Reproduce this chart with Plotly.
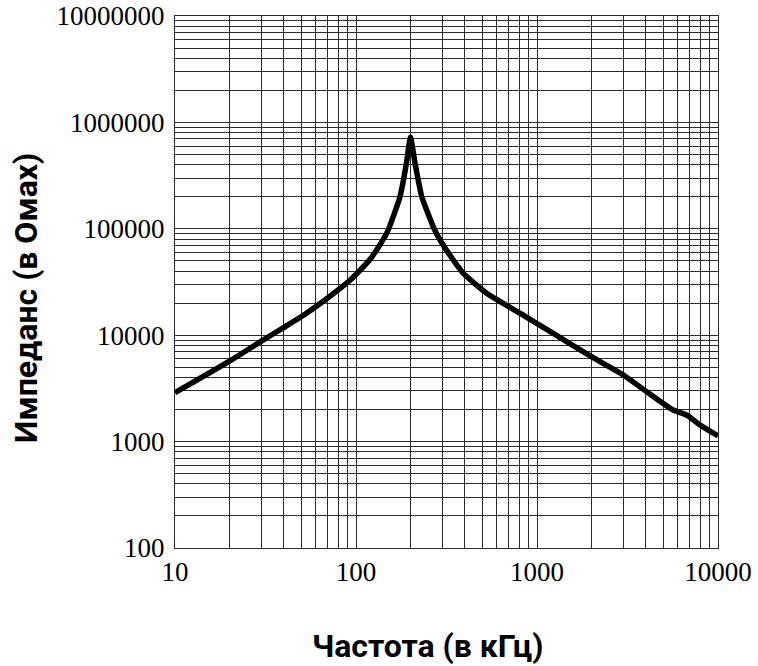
import plotly.graph_objects as go

# Data
freq_khz = [10, 20, 30, 40.5, 51, 70, 93, 120, 148, 175, 190, 200, 212, 231, 267, 291,
            330, 392, 527, 805, 1230, 2000, 3000, 4040, 5660, 6710, 7960, 10000]
impedance_ohm = [2880, 5700, 8800, 12000, 15300, 22500, 33000, 52000, 91000, 200000, 413000,
                 724000, 413000, 200000, 105000, 78500, 56500, 38200, 24800, 16100, 10400,
                 6280, 4230, 2940, 1980, 1780, 1430, 1130]

x_ticks = [10, 100, 1000, 10000]
x_tick_labels = ["10", "100", "1000", "10000"]
y_ticks = [100, 1000, 10000, 100000, 1000000, 10000000]
y_tick_labels = ["100", "1000", "10000", "100000", "1000000", "10000000"]

x_title = "Частота (в кГц)"
y_title = "Импеданс (в Омах)"

grid_color = "#2a2a2a"
tick_font = dict(family="Liberation Serif, Times New Roman, serif", size=27, color="black")
title_font = dict(family="Roboto, Arial, sans-serif", size=32, color="black")

W, H = 758, 666
PL, PR, PT, PB = 175, 718, 16, 548  # plot area in window pixels

fig = go.Figure()
fig.add_trace(go.Scatter(
    x=freq_khz, y=impedance_ohm, mode="lines",
    line=dict(color="black", width=5.5, shape="spline", smoothing=0.5),
    showlegend=False, hoverinfo="skip",
))

axis_common = dict(
    type="log", automargin=False, ticklabeloverflow="allow",
    showgrid=True, gridcolor=grid_color, gridwidth=1,
    showline=True, linecolor=grid_color, linewidth=1, mirror=True,
    ticks="", tickfont=tick_font, zeroline=False,
    minor=dict(dtick="D1", showgrid=True, gridcolor=grid_color, gridwidth=1, ticks=""),
)

fig.update_xaxes(range=[1, 4], tickvals=x_ticks, ticktext=x_tick_labels, **axis_common)
fig.update_yaxes(range=[2, 7], tickvals=y_ticks, ticktext=y_tick_labels,
                 ticklabelstandoff=4, **axis_common)

pw, ph = PR - PL, PB - PT
fig.update_layout(
    width=W, height=H,
    margin=dict(l=PL, r=W - PR, t=PT, b=H - PB, autoexpand=False),
    plot_bgcolor="white", paper_bgcolor="white",
    annotations=[
        dict(text="<b>" + x_title + "</b>", xref="paper", yref="paper",
             x=(428 - PL) / pw, y=-(646 - PB) / ph, xanchor="center", yanchor="middle",
             showarrow=False, font=title_font),
        dict(text="<b>" + y_title + "</b>", xref="paper", yref="paper",
             x=-(PL - 26) / pw, y=(PB - 298) / ph, xanchor="center", yanchor="middle",
             textangle=-90, showarrow=False, font=title_font),
    ],
)

fig.write_html(
    "out.html",
    config={"displayModeBar": False, "staticPlot": True},
    post_script="document.body.style.margin='0';document.body.style.padding='0';",
)
